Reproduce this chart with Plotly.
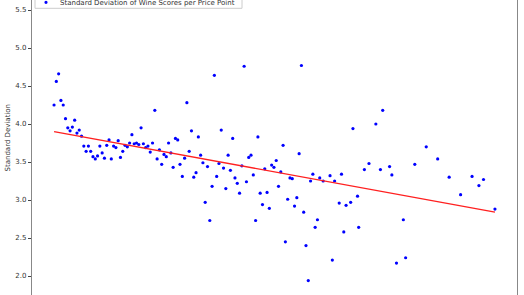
import numpy as np
import plotly.graph_objects as go

# Price points (USD) and standard deviation of wine scores at each price
prices = [4, 5, 6, 7, 8, 9, 10, 11, 12, 13, 14, 15, 16, 17, 18, 19, 20, 21, 22, 23,
          24, 25, 26, 27, 28, 29, 30, 31, 32, 33, 34, 35, 36, 37, 38, 39, 40, 41, 42, 43,
          44, 45, 46, 47, 48, 49, 50, 51, 52, 53, 54, 55, 56, 57, 58, 59, 60, 61, 62, 63,
          64, 65, 66, 67, 68, 69, 70, 71, 72, 73, 74, 75, 76, 77, 78, 79, 80, 81, 82, 83,
          84, 85, 86, 87, 88, 89, 90, 91, 92, 93, 94, 95, 96, 97, 98, 99, 100, 101, 102, 103,
          104, 105, 106, 107, 108, 109, 110, 111, 112, 113, 114, 115, 116, 117, 118, 119, 120,
          121.5, 124.5, 125.5, 126.5, 128.5, 129.5, 130.5, 131.5, 133.5, 134.5, 136.5, 137,
          139.5, 141.5, 144.5, 146.5, 147.5, 150.5, 151.5, 153.5, 156.5, 157.5, 161.5, 166.5,
          171.5, 176.5, 181.5, 186.5, 189.5, 191.5, 196.5]

std_dev = [4.25, 4.56, 4.66, 4.31, 4.25, 4.07, 3.95, 3.91, 3.96, 4.05, 3.88, 3.92, 3.84, 3.71,
           3.64, 3.71, 3.64, 3.57, 3.54, 3.58, 3.71, 3.62, 3.55, 3.72, 3.79, 3.54, 3.71, 3.69,
           3.78, 3.56, 3.64, 3.72, 3.70, 3.75, 3.86, 3.74, 3.75, 3.73, 3.95, 3.74, 3.69, 3.71,
           3.63, 3.75, 4.18, 3.54, 3.66, 3.47, 3.60, 3.57, 3.75, 3.62, 3.43, 3.81, 3.79, 3.47,
           3.31, 3.55, 4.28, 3.64, 3.91, 3.30, 3.36, 3.83, 3.59, 3.49, 2.97, 3.44, 2.73, 3.18,
           4.64, 3.31, 3.48, 3.92, 3.42, 3.15, 3.59, 3.39, 3.81, 3.29, 3.22, 3.09, 3.45, 4.76,
           3.24, 3.56, 3.59, 3.33, 2.73, 3.83, 3.09, 2.94, 3.41, 3.10, 2.89, 3.46, 3.43, 3.52,
           3.18, 3.37, 3.72, 2.45, 3.01, 3.29, 3.28, 2.92, 3.03, 3.61, 4.77, 2.84, 2.40, 1.94,
           3.25, 3.34, 2.64, 2.74, 3.29,
           3.25, 3.32, 2.21, 3.25, 2.96, 3.34, 2.58, 2.93, 2.97, 3.94, 3.05, 2.64,
           3.40, 3.48, 4.00, 3.40, 4.18, 3.44, 3.33, 2.17, 2.74, 2.24, 3.47, 3.70,
           3.54, 3.30, 3.07, 3.31, 3.19, 3.27, 2.88]

y_ticks = [2.0, 2.5, 3.0, 3.5, 4.0, 4.5, 5.0, 5.5]
legend_label = "Standard Deviation of Wine Scores per Price Point"
y_title = "Standard Deviation"

x = np.array(prices, dtype=float)
y = np.array(std_dev, dtype=float)
slope, intercept = np.polyfit(x, y, 1)
x_fit = np.array([x.min(), x.max()])
y_fit = slope * x_fit + intercept

W, H = 524, 295
L, R = 32, 7
plot_w = W - L - R

def px_x(p):
    return (p - L) / plot_w

def px_y(p):
    return 1 - p / H

span = x.max() - x.min()
x_range = [x.min() - 0.05 * span, x.max() + 0.05 * span]

fig = go.Figure()
fig.add_trace(go.Scatter(
    x=prices, y=std_dev, mode="markers",
    marker=dict(color="#0000ff", size=3.2, line=dict(width=0)),
    name=legend_label, showlegend=False,
))
fig.add_trace(go.Scatter(
    x=x_fit, y=y_fit, mode="lines",
    line=dict(color="#ff2020", width=1.3),
    showlegend=False,
))

font = dict(family="DejaVu Sans", size=7, color="#333333")

fig.update_layout(
    width=W, height=H,
    margin=dict(l=L, r=R, t=0, b=0),
    paper_bgcolor="white", plot_bgcolor="white",
    showlegend=False,
    font=font,
    xaxis=dict(range=x_range, showgrid=False, zeroline=False, showticklabels=False,
               ticks="", showline=False),
    yaxis=dict(range=[1.75, 2 + 276 / 76], showgrid=False, zeroline=False,
               tickvals=y_ticks, tickformat=".1f", ticks="outside", ticklen=3,
               tickwidth=1, tickcolor="#444444", showline=True, linecolor="#888888",
               linewidth=1.2, mirror=True, tickfont=font),
    shapes=[
        dict(type="rect", xref="paper", yref="paper",
             x0=px_x(35), x1=px_x(242), y0=px_y(8.3), y1=px_y(-6),
             line=dict(color="#cccccc", width=1), fillcolor="rgba(255,255,255,0.85)",
             layer="above"),
        dict(type="circle", xref="paper", yref="paper",
             xsizemode="pixel", ysizemode="pixel",
             xanchor=px_x(46.0), yanchor=px_y(2.3),
             x0=-1.6, x1=1.6, y0=-1.6, y1=1.6,
             line=dict(width=0), fillcolor="#0000ff", layer="above"),
    ],
    annotations=[
        dict(text=legend_label, xref="paper", yref="paper",
             x=px_x(58), y=px_y(3.2), xanchor="left", yanchor="middle",
             showarrow=False, font=font),
        dict(text=y_title, xref="paper", yref="paper",
             x=px_x(7.5), y=px_y(138), xanchor="center", yanchor="middle",
             textangle=-90, showarrow=False, font=font),
    ],
)

fig.write_html("out.html")
